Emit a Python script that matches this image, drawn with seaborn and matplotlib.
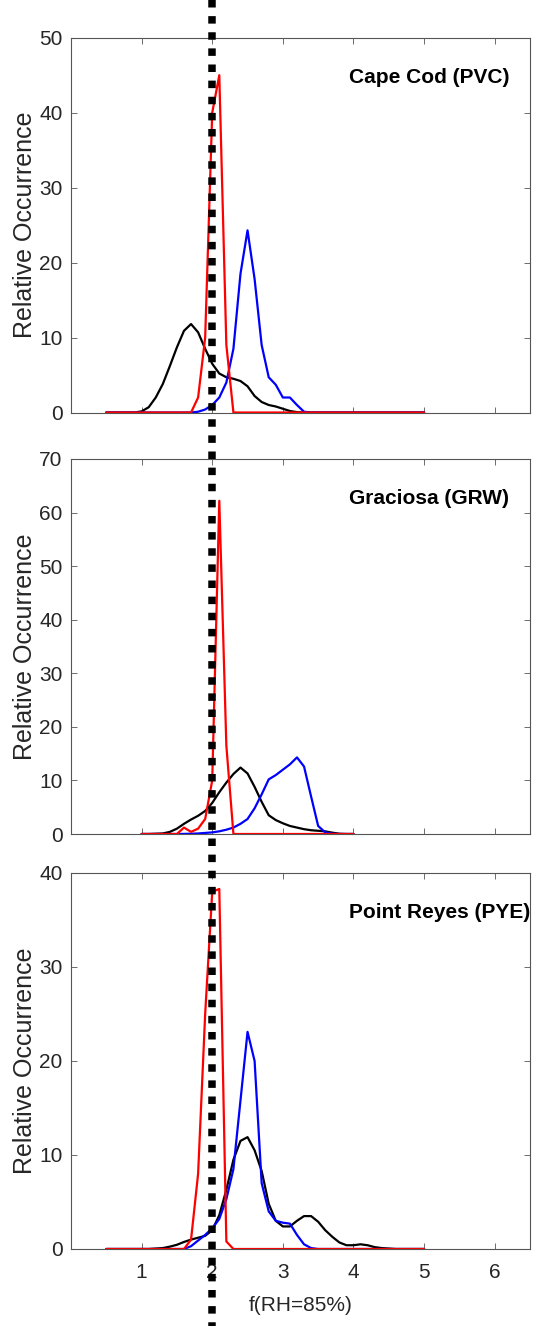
import numpy as np
import pandas as pd
import matplotlib
matplotlib.use("Agg")
import matplotlib.pyplot as plt
import seaborn as sns
from matplotlib.lines import Line2D
from matplotlib.transforms import blended_transform_factory

# ---------------- data ----------------
# bin centres, f(RH=85%)
x_pvc = [0.5, 0.6, 0.7, 0.8, 0.9, 1.0, 1.1, 1.2, 1.3, 1.4, 1.5, 1.6, 1.7, 1.8, 1.9,
         2.0, 2.1, 2.2, 2.3, 2.4, 2.5, 2.6, 2.7, 2.8, 2.9, 3.0, 3.1, 3.2, 3.3, 3.4,
         3.5, 3.6, 3.7, 3.8, 3.9, 4.0, 4.1, 4.2, 4.3, 4.4, 4.5, 4.6, 4.7, 4.8, 4.9, 5.0]
black_pvc = [0, 0, 0, 0, 0, 0.15, 0.7, 2.0, 3.8, 6.2, 8.7, 10.9, 11.8, 10.7, 8.5,
             6.5, 5.2, 4.7, 4.5, 4.2, 3.5, 2.2, 1.4, 1.0, 0.8, 0.5, 0.2, 0.05, 0, 0,
             0, 0, 0, 0, 0, 0, 0, 0, 0, 0, 0, 0, 0, 0, 0, 0]
blue_pvc = [0, 0, 0, 0, 0, 0, 0, 0, 0, 0, 0, 0, 0, 0.1, 0.4,
            1.0, 2.0, 4.0, 8.5, 18.5, 24.3, 17.8, 9.0, 4.7, 3.7, 2.0, 2.0, 1.0, 0.1, 0,
            0, 0, 0, 0, 0, 0, 0, 0, 0, 0, 0, 0, 0, 0, 0, 0]
red_pvc = [0, 0, 0, 0, 0, 0, 0, 0, 0, 0, 0, 0, 0, 2.0, 10.0,
           40.0, 45.0, 9.0, 0, 0, 0, 0, 0, 0, 0, 0, 0, 0, 0, 0,
           0, 0, 0, 0, 0, 0, 0, 0, 0, 0, 0, 0, 0, 0, 0, 0]

x_grw = [1.0, 1.1, 1.2, 1.3, 1.4, 1.5, 1.6, 1.7, 1.8, 1.9, 2.0, 2.1, 2.2, 2.3, 2.4,
         2.5, 2.6, 2.7, 2.8, 2.9, 3.0, 3.1, 3.2, 3.3, 3.4, 3.5, 3.6, 3.7, 3.8, 3.9, 4.0]
black_grw = [0, 0, 0.05, 0.1, 0.4, 1.0, 1.9, 2.7, 3.4, 4.3, 5.8, 7.8, 9.6, 11.2, 12.4,
             11.3, 8.8, 6.0, 3.5, 2.6, 2.0, 1.5, 1.2, 0.9, 0.7, 0.6, 0.5, 0.25, 0.05, 0, 0]
blue_grw = [0, 0, 0, 0, 0, 0, 0.02, 0.05, 0.1, 0.2, 0.3, 0.5, 0.8, 1.2, 1.9,
            2.8, 4.8, 7.4, 10.2, 11.0, 12.0, 13.0, 14.3, 12.6, 7.0, 1.5, 0.3, 0.05, 0, 0, 0]
red_grw = [0, 0, 0, 0, 0, 0, 1.2, 0.4, 1.0, 2.8, 10.0, 62.2, 16.5, 0, 0,
           0, 0, 0, 0, 0, 0, 0, 0, 0, 0, 0, 0, 0, 0, 0, 0]

x_pye = list(x_pvc)
black_pye = [0, 0, 0, 0, 0, 0, 0, 0.05, 0.1, 0.25, 0.45, 0.75, 1.0, 1.2, 1.4,
             2.0, 3.6, 6.3, 9.5, 11.5, 11.9, 10.5, 8.3, 4.8, 3.0, 2.4, 2.4, 3.0, 3.5, 3.5,
             2.9, 2.0, 1.3, 0.7, 0.4, 0.4, 0.5, 0.4, 0.2, 0.1, 0.05, 0, 0, 0, 0, 0]
blue_pye = [0, 0, 0, 0, 0, 0, 0, 0, 0, 0, 0, 0, 0.3, 0.9, 1.5,
            2.2, 3.2, 5.3, 8.5, 15.8, 23.1, 20.0, 7.0, 4.0, 3.0, 2.8, 2.7, 1.5, 0.5, 0.1,
            0, 0, 0, 0, 0, 0, 0, 0, 0, 0, 0, 0, 0, 0, 0, 0]
red_pye = [0, 0, 0, 0, 0, 0, 0, 0, 0, 0, 0, 0, 1.0, 8.0, 25.0,
           38.0, 38.3, 0.8, 0, 0, 0, 0, 0, 0, 0, 0, 0, 0, 0, 0,
           0, 0, 0, 0, 0, 0, 0, 0, 0, 0, 0, 0, 0, 0, 0, 0]

site_names = ["Cape Cod (PVC)", "Graciosa (GRW)", "Point Reyes (PYE)"]
y_maxes = [50, 70, 40]
x_ticks = [1, 2, 3, 4, 5, 6]
ref_f = 2.0

# ---------------- style ----------------
sns.set_style("ticks")
plt.rcParams['font.family'] = ['Liberation Sans', 'DejaVu Sans']
txt_col = '#262626'

fig = plt.figure(figsize=(5.39, 13.26), dpi=100)

W, H = 539.0, 1326.0
left_px, right_px = 71.0, 530.0
panels_px = [(37.7, 412.5), (459.0, 834.0), (873.0, 1249.0)]

panel_data = [
    (x_pvc, black_pvc, blue_pvc, red_pvc),
    (x_grw, black_grw, blue_grw, red_grw),
    (x_pye, black_pye, blue_pye, red_pye),
]

axes = []
for i, ((top, bot), (xs, bk, bl, rd)) in enumerate(zip(panels_px, panel_data)):
    ax = fig.add_axes([left_px / W, 1 - bot / H, (right_px - left_px) / W, (bot - top) / H])
    axes.append(ax)
    df = pd.DataFrame({"f": xs, "black": bk, "blue": bl, "red": rd})
    sns.lineplot(data=df, x="f", y="black", color="black", lw=1.6, ax=ax)
    sns.lineplot(data=df, x="f", y="blue", color="#0000ff", lw=1.6, ax=ax)
    sns.lineplot(data=df, x="f", y="red", color="#ff0000", lw=1.6, ax=ax)

    ax.set_xlim(0, 6.5)
    ax.set_ylim(0, y_maxes[i])
    ax.set_xticks(x_ticks)
    ax.set_yticks(np.arange(0, y_maxes[i] + 1, 10))
    ax.tick_params(direction='in', length=4, width=0.6, top=True, right=True,
                   labelsize=15, colors='#555555', labelcolor=txt_col, pad=6)
    ax.tick_params(axis='x', pad=10)
    for s in ax.spines.values():
        s.set_visible(True)
        s.set_color('#555555')
        s.set_linewidth(0.8)
    ax.set_ylabel("Relative Occurrence", fontsize=18, color=txt_col)
    ax.yaxis.set_label_coords(-0.075, 0.5)
    if i < 2:
        ax.set_xticklabels([])
        ax.set_xlabel("")
    else:
        ax.set_xlabel("f(RH=85%)", fontsize=15, color=txt_col, labelpad=10)
    ax.text(0.605, 0.895, site_names[i], transform=ax.transAxes, fontsize=15,
            fontweight='bold', ha='left', va='center', color='black')

# dotted reference line across the whole figure
trans = blended_transform_factory(axes[2].transData, fig.transFigure)
ln = Line2D([ref_f, ref_f], [1.0, 0.0], transform=trans, color='black', lw=5.4,
            linestyle=(0, (1, 1.15)), dash_capstyle='butt', zorder=20)
fig.add_artist(ln)

fig.savefig("out.png", dpi=100)
